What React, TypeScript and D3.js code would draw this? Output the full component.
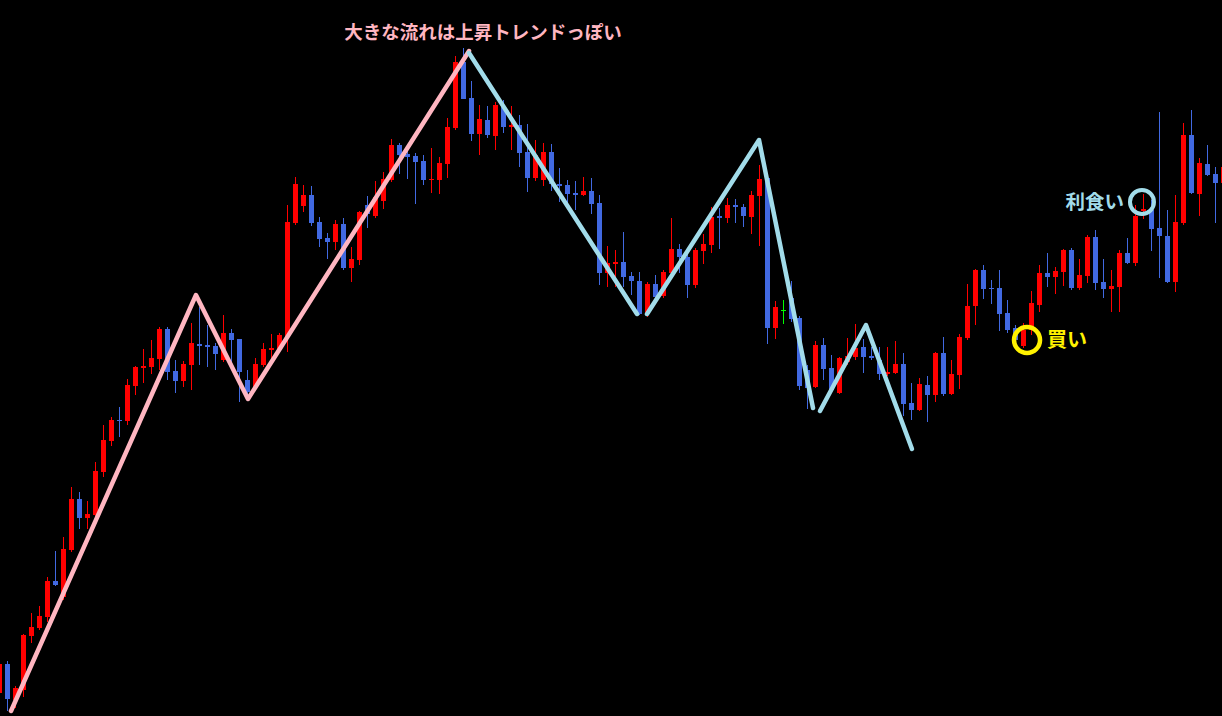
import * as d3 from "d3";

// one candle per bar, oldest first (USD/JPY-like prices)
const opens = [
  141.07, 141.36, 141.0, 141.1, 141.64, 141.72, 141.83, 142.19, 142.03, 142.5, 143.01, 142.82, 142.85, 143.28, 143.59, 143.8,
  143.79, 144.14, 144.32, 144.33, 144.41, 144.71, 144.29, 144.19, 144.35, 144.56, 144.55, 144.54, 144.4, 144.67, 144.61, 144.2,
  144.13, 144.35, 144.5, 144.5, 144.63, 145.77, 145.94, 146.05, 145.78, 145.62, 145.58, 145.76, 145.32, 145.4, 145.95, 145.84,
  145.99, 146.2, 146.55, 146.46, 146.44, 146.39, 146.2, 146.2, 146.36, 146.72, 147.38, 147.02, 146.66, 146.8, 146.64, 146.93,
  146.73, 146.75, 146.48, 146.22, 146.2, 146.48, 146.16, 146.15, 146.07, 146.05, 146.09, 145.97, 145.27, 145.36, 145.38, 145.24,
  145.19, 144.86, 145.16, 145.04, 145.27, 145.51, 145.43, 145.15, 145.49, 145.55, 145.84, 145.82, 145.95, 145.93, 145.83, 146.04,
  146.22, 144.72, 144.9, 145.02, 144.82, 144.3, 144.13, 144.55, 144.32, 144.07, 144.38, 144.43, 144.53, 144.44, 144.4, 144.26,
  144.27, 144.36, 143.97, 143.9, 144.15, 144.05, 144.47, 144.06, 144.25, 144.62, 144.94, 145.3, 145.12, 145.12, 144.87, 144.72,
  144.54, 144.7, 144.95, 145.27, 145.23, 145.28, 145.5, 145.12, 145.24, 145.63, 145.18, 145.11, 145.13, 145.47, 145.37, 145.89,
  145.9, 145.72, 145.64, 145.18, 145.77, 146.65, 146.06, 146.36, 146.26, 146.17,
];
const highs = [
  141.4, 141.39, 141.14, 141.66, 141.87, 141.94, 142.23, 142.49, 142.63, 143.13, 143.08, 142.99, 143.38, 143.75, 143.83, 143.93,
  144.21, 144.34, 144.51, 144.6, 144.73, 144.73, 144.4, 144.39, 144.77, 144.93, 144.75, 144.57, 144.85, 144.71, 144.61, 144.3,
  144.42, 144.57, 144.66, 144.67, 145.95, 146.23, 146.15, 146.14, 145.83, 145.67, 145.8, 145.82, 145.53, 145.89, 146.04, 146.19,
  146.28, 146.61, 146.57, 146.52, 146.47, 146.45, 146.52, 146.43, 146.82, 147.44, 147.52, 147.19, 146.95, 146.94, 146.98, 147.0,
  146.94, 146.85, 146.76, 146.6, 146.57, 146.56, 146.32, 146.2, 146.19, 146.23, 146.22, 146.05, 145.54, 145.5, 145.68, 145.28,
  145.28, 145.18, 145.25, 145.3, 145.82, 145.56, 145.47, 145.52, 145.66, 145.93, 145.92, 146.02, 146.01, 145.96, 146.09, 146.35,
  146.27, 144.99, 145.0, 145.19, 144.84, 144.35, 144.59, 144.62, 144.45, 144.43, 144.62, 144.76, 144.61, 144.53, 144.53, 144.53,
  144.59, 144.47, 144.17, 144.22, 144.24, 144.48, 144.63, 144.4, 144.66, 145.16, 145.31, 145.35, 145.2, 145.3, 145.0, 144.75,
  144.77, 145.09, 145.35, 145.47, 145.33, 145.51, 145.52, 145.41, 145.65, 145.7, 145.41, 145.3, 145.5, 145.62, 145.95, 146.06,
  146.0, 146.88, 145.9, 146.05, 146.77, 146.9, 146.42, 146.55, 146.33, 146.4,
];
const lows = [
  141.04, 140.89, 140.92, 141.03, 141.57, 141.7, 141.78, 142.14, 142.0, 142.48, 142.71, 142.71, 142.82, 143.23, 143.54, 143.63,
  143.75, 144.05, 144.17, 144.26, 144.3, 144.2, 144.07, 144.13, 144.1, 144.35, 144.33, 144.3, 144.38, 144.37, 143.98, 144.04,
  144.1, 144.33, 144.4, 144.48, 144.48, 145.75, 145.88, 145.74, 145.53, 145.41, 145.5, 145.3, 145.18, 145.35, 145.72, 145.82,
  145.91, 146.18, 146.26, 146.21, 145.96, 146.15, 146.07, 146.06, 146.22, 146.7, 147.08, 146.59, 146.45, 146.62, 146.5, 146.67,
  146.5, 146.33, 146.08, 146.19, 146.14, 146.09, 145.98, 145.97, 145.9, 146.04, 145.86, 145.15, 145.13, 145.13, 145.13, 145.05,
  144.85, 144.83, 145.0, 145.02, 145.25, 145.27, 145.02, 145.12, 145.36, 145.47, 145.51, 145.77, 145.77, 145.73, 145.66, 145.54,
  144.56, 144.61, 144.76, 144.78, 144.1, 143.91, 144.12, 144.2, 144.08, 144.06, 144.35, 144.4, 144.27, 144.4, 144.2, 144.24,
  144.26, 143.84, 143.8, 143.89, 143.78, 143.98, 144.04, 144.05, 144.11, 144.6, 144.75, 145.01, 144.96, 144.69, 144.67, 144.55,
  144.52, 144.65, 144.88, 145.13, 145.06, 145.14, 145.1, 145.1, 145.17, 145.1, 145.02, 144.88, 144.88, 145.36, 145.34, 145.81,
  145.49, 145.22, 145.17, 145.08, 145.75, 146.06, 145.84, 146.24, 145.77, 146.1,
];
const closes = [
  141.36, 141.01, 141.12, 141.65, 141.73, 141.84, 142.19, 142.15, 142.51, 143.01, 142.82, 142.86, 143.29, 143.6, 143.8, 143.79,
  144.15, 144.33, 144.34, 144.42, 144.71, 144.28, 144.19, 144.36, 144.57, 144.54, 144.53, 144.46, 144.67, 144.6, 144.28, 144.08,
  144.36, 144.51, 144.52, 144.65, 145.78, 146.16, 146.05, 145.77, 145.61, 145.58, 145.76, 145.32, 145.41, 145.88, 145.86, 146.03,
  146.21, 146.55, 146.45, 146.43, 146.38, 146.2, 146.21, 146.37, 146.73, 147.38, 147.01, 146.66, 146.81, 146.65, 146.95, 146.73,
  146.75, 146.47, 146.22, 146.45, 146.48, 146.16, 146.14, 146.06, 146.05, 146.09, 145.96, 145.27, 145.37, 145.38, 145.23, 145.19,
  144.86, 145.16, 145.03, 145.28, 145.51, 145.43, 145.15, 145.5, 145.56, 145.83, 145.82, 145.95, 145.93, 145.84, 146.05, 146.21,
  144.72, 144.93, 144.9, 144.81, 144.14, 144.12, 144.55, 144.31, 144.1, 144.42, 144.44, 144.52, 144.43, 144.42, 144.26, 144.28,
  144.36, 143.96, 143.9, 144.16, 144.05, 144.47, 144.06, 144.26, 144.63, 144.94, 145.3, 145.11, 145.11, 144.86, 144.7, 144.6,
  144.7, 144.97, 145.27, 145.23, 145.29, 145.5, 145.12, 145.25, 145.63, 145.17, 145.11, 145.14, 145.47, 145.37, 145.84, 145.91,
  145.71, 145.64, 145.18, 145.78, 146.65, 146.07, 146.37, 146.25, 146.17, 146.33,
];

// hand-drawn zigzag swings: [bar position, price]
const upSwing: [number, number][] = [
  [1.44, 140.89], [24.56, 145.05], [31.06, 144.01], [58.69, 147.49],
];
const downSwings: [number, number][][] = [
  [[58.69, 147.47], [79.69, 144.86]],
  [[80.94, 144.86], [94.94, 146.6], [101.69, 143.92]],
  [[102.56, 143.89], [108.31, 144.75], [114.06, 143.51]],
];

const title = "大きな流れは上昇トレンドっぽい";
const buyMark: [number, number] = [128.44, 144.6];
const takeProfitMark: [number, number] = [142.81, 145.98];

const W = 1222;
const H = 716;
const RED = "#ff0000";
const BLUE = "#4169e1";
const PINK = "#ffb6c1";
const SKY = "#a2dcea";
const YELLOW = "#fff200";
const FONT = "'Noto Sans CJK JP', 'Noto Sans', sans-serif";

export default function App() {
  const x = d3.scaleLinear().domain([0, 153]).range([-0.5, 1223.5]);
  const y = d3.scaleLinear().domain([148, 140.84]).range([0, H]);
  const line = d3
    .line<[number, number]>()
    .x((d) => x(d[0]))
    .y((d) => y(d[1]));

  return (
    <svg width={W} height={H} style={{ display: "block", background: "#000" }}>
      <style>{`body{margin:0;background:#000}`}</style>
      <rect width={W} height={H} fill="#000" />
      <g shapeRendering="crispEdges">
        {opens.map((o, i) => {
          const c = closes[i];
          const col = c > o ? RED : c < o ? BLUE : "#00ff00";
          const cx = x(i);
          const top = Math.round(y(Math.max(o, c)));
          const bot = Math.round(y(Math.min(o, c)));
          return (
            <g key={i}>
              <line x1={cx} x2={cx} y1={Math.round(y(highs[i]))} y2={Math.round(y(lows[i]))} stroke={col} strokeWidth={1} />
              <rect x={cx - 2.5} y={top} width={5} height={Math.max(1, bot - top)} fill={col} />
            </g>
          );
        })}
      </g>
      <path d={line(upSwing) || undefined} fill="none" stroke={PINK} strokeWidth={4.5} strokeLinejoin="round" strokeLinecap="round" />
      {downSwings.map((s, i) => (
        <path key={i} d={line(s) || undefined} fill="none" stroke={SKY} strokeWidth={4.5} strokeLinejoin="round" strokeLinecap="round" />
      ))}
      <text x={483} y={39} textAnchor="middle" fontFamily={FONT} fontWeight="bold" fontSize={18.5} fill={PINK}>
        {title}
      </text>
      <circle cx={x(takeProfitMark[0])} cy={y(takeProfitMark[1])} r={12} fill="none" stroke={SKY} strokeWidth={4} />
      <text x={x(takeProfitMark[0]) - 18} y={y(takeProfitMark[1]) + 7} textAnchor="end" fontFamily={FONT} fontWeight="bold" fontSize={19.5} fill={SKY}>
        利食い
      </text>
      <circle cx={x(buyMark[0])} cy={y(buyMark[1])} r={13} fill="none" stroke={YELLOW} strokeWidth={4.5} />
      <text x={x(buyMark[0]) + 20} y={y(buyMark[1]) + 7} fontFamily={FONT} fontWeight="bold" fontSize={20} fill={YELLOW}>
        買い
      </text>
    </svg>
  );
}
